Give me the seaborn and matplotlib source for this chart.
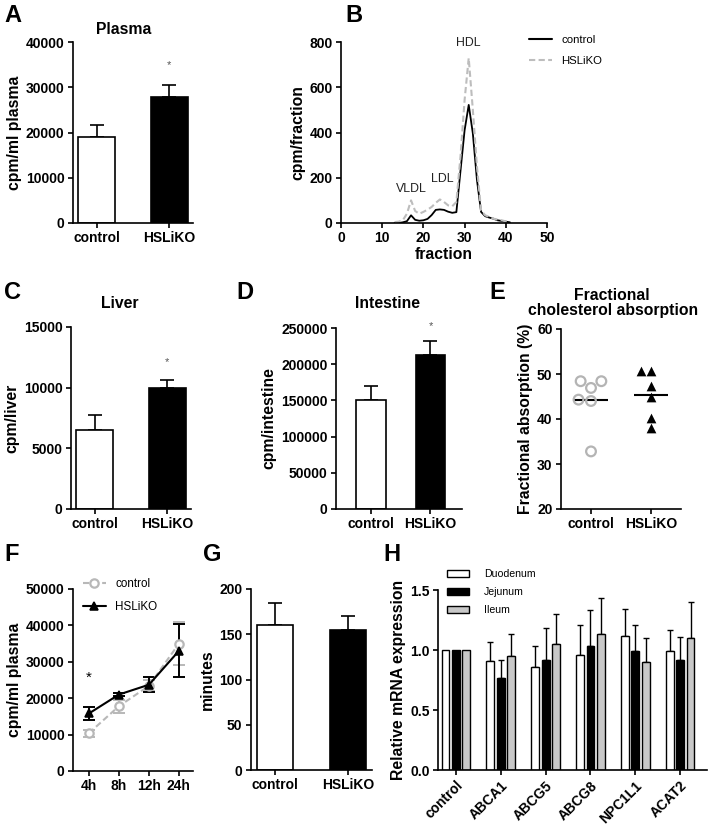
import numpy as np
import pandas as pd
import seaborn as sns
import matplotlib.pyplot as plt

# ---- data ----
groups = ["control", "HSLiKO"]

plasma_mean = [19000, 27900]
plasma_sem = [2650, 2600]

liver_mean = [6500, 10000]
liver_sem = [1250, 650]

intestine_mean = [150500, 213000]
intestine_sem = [19500, 19500]

fractions = list(range(13, 42))
profile_control = [0, 0, 3, 8, 34, 14, 10, 12, 18, 35, 58, 60, 58, 50, 45, 48,
                   230, 410, 522, 396, 190, 49, 30, 24, 19, 12, 9, 6, 3]
profile_hsliko = [4, 6, 12, 41, 100, 53, 41, 49, 59, 71, 89, 104, 93, 78, 74, 93,
                  293, 544, 729, 500, 249, 56, 34, 27, 19, 15, 12, 7, 4]

absorption_control = [48.4, 48.4, 46.9, 44.3, 44.0, 32.8]
absorption_hsliko = [50.6, 50.6, 47.3, 45.0, 40.2, 37.9]

timepoints = ["4h", "8h", "12h", "24h"]
time_control = [10400, 17800, 23400, 35000]
time_control_sem = [1000, 1800, 1500, 6000]
time_hsliko = [15800, 21000, 23700, 33000]
time_hsliko_sem = [1900, 400, 2100, 7300]

transit_mean = [160, 155]
transit_sem = [25, 15.5]

genes = ["control", "ABCA1", "ABCG5", "ABCG8", "NPC1L1", "ACAT2"]
tissues = ["Duodenum", "Jejunum", "Ileum"]
duodenum = [1.0, 0.91, 0.86, 0.96, 1.12, 0.99]
duodenum_sem = [0, 0.16, 0.17, 0.25, 0.22, 0.18]
jejunum = [1.0, 0.77, 0.92, 1.03, 0.99, 0.92]
jejunum_sem = [0, 0.15, 0.26, 0.30, 0.22, 0.19]
ileum = [1.0, 0.95, 1.05, 1.13, 0.90, 1.10]
ileum_sem = [0, 0.18, 0.25, 0.30, 0.20, 0.30]

# ---- style ----
sns.set_theme(style="ticks")
plt.rcParams["font.family"] = ["Liberation Sans", "DejaVu Sans"]
plt.rcParams.update({
    "font.weight": "bold",
    "axes.labelweight": "bold",
    "axes.labelsize": 11.3,
    "xtick.labelsize": 10,
    "ytick.labelsize": 10,
    "axes.linewidth": 1.2,
    "xtick.major.width": 1.2,
    "ytick.major.width": 1.2,
    "xtick.major.size": 3.6,
    "ytick.major.size": 3.6,
    "xtick.major.pad": 2.5,
    "ytick.major.pad": 2.5,
    "axes.labelpad": 3,
    "text.color": "black",
    "axes.labelcolor": "black",
    "xtick.color": "black",
    "ytick.color": "black",
    "axes.edgecolor": "black",
})

W, H = 708, 827
fig = plt.figure(figsize=(W / 100, H / 100), dpi=100)


def panel(l, t, r, b):
    return fig.add_axes([l / W, 1 - b / H, (r - l) / W, (b - t) / H])


def add_errors(ax, sems_per_container, capsize=5, lw=1.2):
    for cont, sems in zip(ax.containers, sems_per_container):
        for bar, e in zip(cont, sems):
            if e <= 0:
                continue
            x = bar.get_x() + bar.get_width() / 2
            ax.errorbar(x, bar.get_height(), yerr=[[0], [e]], color="black",
                        lw=lw, capsize=capsize, capthick=lw, zorder=0.5)


def bar_panel(ax, means, sems, ylabel, ymax, step, star=None):
    df = pd.DataFrame({"group": groups, "value": means})
    sns.barplot(data=df, x="group", y="value", hue="group", order=groups,
                palette={"control": "white", "HSLiKO": "black"},
                edgecolor="black", linewidth=1.2, width=0.5, errorbar=None,
                legend=False, ax=ax)
    add_errors(ax, [[s] for s in sems])
    ax.set_ylim(0, ymax)
    ax.set_yticks(np.arange(0, ymax + 1, step))
    ax.set_xlabel("")
    ax.set_ylabel(ylabel)
    if star is not None:
        ax.text(1, star, "*", ha="center", va="center", fontsize=8,
                color="#555555", fontweight="normal")
    sns.despine(ax=ax)


def letter(x, y, s):
    fig.text(x / W, 1 - y / H, s, fontsize=17, fontweight="bold",
             ha="left", va="top")


def title(x, y, s):
    fig.text(x / W, 1 - y / H, s, fontsize=11.3, fontweight="bold",
             ha="center", va="center")


# ---- A: plasma ----
axA = panel(73, 42, 193, 223)
bar_panel(axA, plasma_mean, plasma_sem, "cpm/ml plasma", 40000, 10000, star=35000)
title(124, 30, "Plasma")
letter(4, 4, "A")

# ---- B: FPLC profile ----
axB = panel(341, 42, 547, 223)
dfB = pd.DataFrame({
    "fraction": fractions * 2,
    "cpm": profile_control + profile_hsliko,
    "group": ["control"] * len(fractions) + ["HSLiKO"] * len(fractions),
})
sns.lineplot(data=dfB, x="fraction", y="cpm", hue="group", style="group",
             hue_order=groups, style_order=groups,
             palette={"control": "black", "HSLiKO": "#bdbdbd"},
             dashes={"control": "", "HSLiKO": (3, 1.6)},
             linewidth=1.5, ax=axB)
axB.lines[0].set_linewidth(1.3)
axB.set_xlim(0, 50)
axB.set_ylim(0, 800)
axB.set_xticks(range(0, 51, 10))
axB.set_yticks(range(0, 801, 200))
axB.set_xlabel("fraction", labelpad=1)
axB.set_ylabel("cpm/fraction")
for txt, fx, fy in [("VLDL", 17, 150), ("LDL", 24.5, 195), ("HDL", 30.8, 795)]:
    axB.text(fx, fy, txt, ha="center", va="center", fontsize=8.9,
             fontweight="normal", color="#222222")
axB.legend(loc="upper left", bbox_to_anchor=(0.915, 1.04), frameon=False,
           borderaxespad=0, borderpad=0, handlelength=2.0, labelspacing=0.95,
           prop={"size": 8.2, "weight": "normal"})
sns.despine(ax=axB)
letter(345, 4, "B")

# ---- C: liver ----
axC = panel(71, 327, 191, 509)
bar_panel(axC, liver_mean, liver_sem, "cpm/liver", 15000, 5000, star=12100)
title(120, 304, "Liver")
letter(4, 281, "C")

# ---- D: intestine ----
axD = panel(336, 328, 462, 509)
bar_panel(axD, intestine_mean, intestine_sem, "cpm/intestine", 250000, 50000,
          star=253000)
axD.set_xlim(-0.59, 1.53)
title(388, 304, "Intestine")
letter(236, 281, "D")

# ---- E: fractional absorption ----
axE = panel(561, 329, 681, 509)
dfE = pd.DataFrame({
    "group": ["control"] * len(absorption_control) + ["HSLiKO"] * len(absorption_hsliko),
    "value": absorption_control + absorption_hsliko,
})
n_before = len(axE.collections)
sns.swarmplot(data=dfE[dfE.group == "control"], x="group", y="value",
              order=groups, marker="o", size=7, color="#b4b4b4", ax=axE)
for pts in axE.collections[n_before:]:
    pts.set_facecolor("none")
    pts.set_edgecolor("#b4b4b4")
    pts.set_linewidth(1.6)
sns.swarmplot(data=dfE[dfE.group == "HSLiKO"], x="group", y="value",
              order=groups, marker="^", size=7, color="black", ax=axE)
sns.pointplot(data=dfE, x="group", y="value", order=groups, estimator="mean",
              errorbar=None, color="black", marker="_", markersize=24,
              markeredgewidth=1.5, linestyle="none", ax=axE)
axE.set_ylim(20, 60)
axE.set_yticks(range(20, 61, 10))
axE.set_xlim(-0.5, 1.5)
axE.set_xlabel("")
axE.set_ylabel("Fractional absorption (%)")
sns.despine(ax=axE)
title(612, 295, "Fractional")
title(613, 311, "cholesterol absorption")
letter(489, 281, "E")

# ---- F: plasma time course ----
axF = panel(73, 589, 193, 771)
dfF = pd.DataFrame({
    "time": timepoints * 2,
    "cpm": time_control + time_hsliko,
    "group": ["control"] * 4 + ["HSLiKO"] * 4,
})
gray = "#b8b8b8"
sns.pointplot(data=dfF, x="time", y="cpm", hue="group", order=timepoints,
              hue_order=groups, palette={"control": gray, "HSLiKO": "black"},
              markers=["o", "^"], linestyles=["--", "-"], errorbar=None,
              markersize=6, linewidth=1.5, legend=False, ax=axF)
lines = list(axF.lines[:2])
lines[0].set_markerfacecolor("white")
lines[0].set_markeredgewidth(1.6)
lines[0].set_dashes((3, 1.6))
for line, sems, col in zip(lines, [time_control_sem, time_hsliko_sem], [gray, "black"]):
    axF.errorbar(line.get_xdata(), line.get_ydata(), yerr=sems, fmt="none",
                 ecolor=col, elinewidth=1.4, capsize=4, capthick=1.4,
                 zorder=line.get_zorder() - 0.1)
axF.legend(handles=lines, labels=groups, loc="upper left",
           bbox_to_anchor=(0.08, 1.06), frameon=False, borderaxespad=0,
           borderpad=0, handlelength=2.0, labelspacing=0.95,
           prop={"size": 8.4, "weight": "normal"})
axF.text(0, 25500, "*", ha="center", va="center", fontsize=11,
         fontweight="normal")
axF.set_ylim(0, 50000)
axF.set_yticks(range(0, 50001, 10000))
axF.set_xlim(-0.53, 3.47)
axF.set_xlabel("")
axF.set_ylabel("cpm/ml plasma")
sns.despine(ax=axF)
letter(4, 543, "F")

# ---- G: transit time ----
axG = panel(251, 589, 372, 770)
bar_panel(axG, transit_mean, transit_sem, "minutes", 200, 50)
letter(203, 543, "G")

# ---- H: mRNA expression ----
axH = panel(438, 590, 707, 770)
dfH = pd.DataFrame({
    "gene": genes * 3,
    "tissue": np.repeat(tissues, len(genes)),
    "value": duodenum + jejunum + ileum,
})
sns.barplot(data=dfH, x="gene", y="value", hue="tissue", order=genes,
            hue_order=tissues, palette=["white", "black", "#c8c8c8"],
            edgecolor="black", linewidth=1.0, width=0.7, gap=0.25,
            errorbar=None, ax=axH)
add_errors(axH, [duodenum_sem, jejunum_sem, ileum_sem], capsize=2.5, lw=1.0)
axH.set_ylim(0, 1.5)
axH.set_yticks([0, 0.5, 1.0, 1.5])
axH.set_xlim(-0.4, 5.6)
axH.set_xlabel("")
axH.set_ylabel("Relative mRNA expression")
plt.setp(axH.get_xticklabels(), rotation=45, ha="right", rotation_mode="anchor")
axH.legend(loc="upper left", bbox_to_anchor=(0.033, 1.115), frameon=False,
           borderaxespad=0, borderpad=0, handlelength=2.1, labelspacing=0.75,
           handletextpad=1.4, prop={"size": 7.6, "weight": "normal"})
sns.despine(ax=axH)
letter(383, 543, "H")

fig.savefig("out.png", dpi=100)
